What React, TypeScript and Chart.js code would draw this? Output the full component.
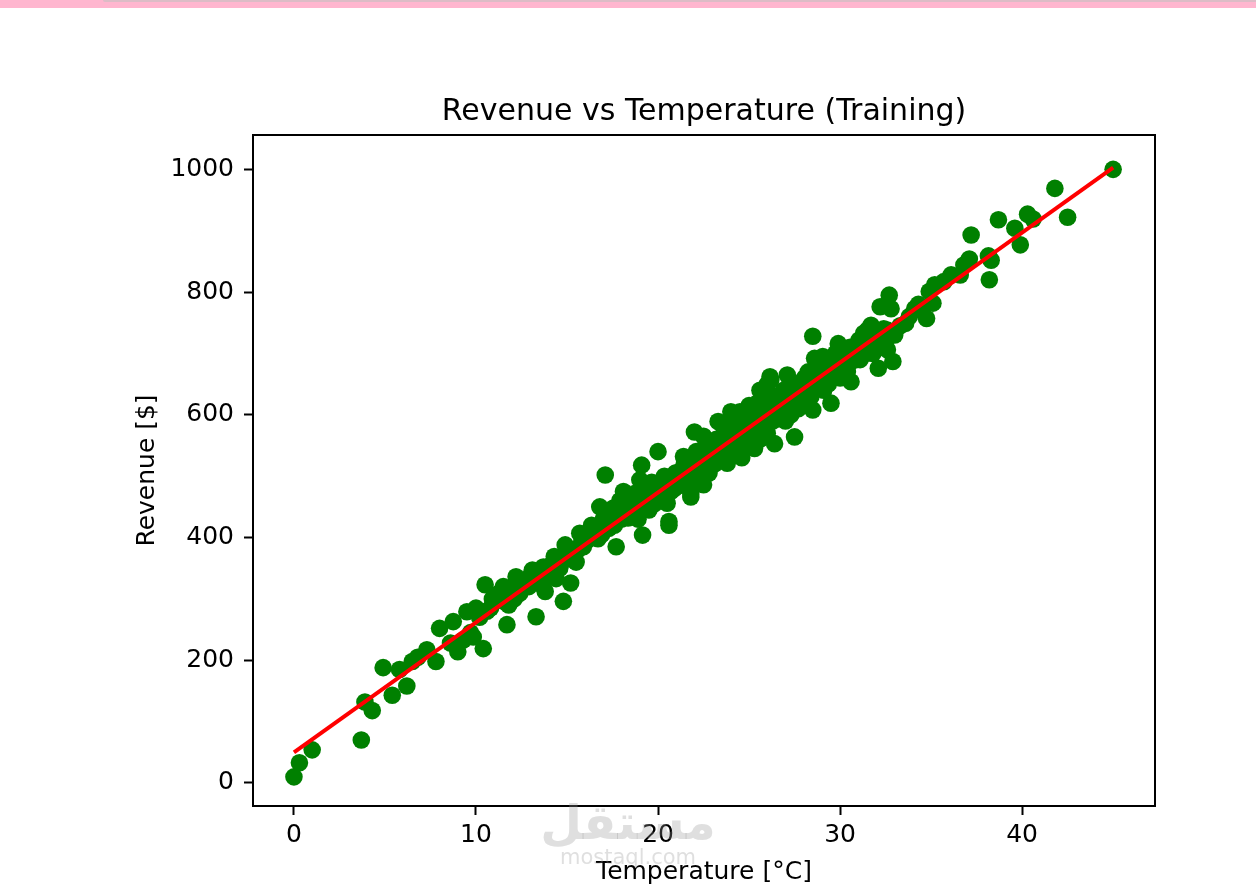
import React, { useEffect, useRef } from "react";
import { Chart, registerables } from "chart.js";

Chart.register(...registerables);

// Training data: temperature [°C] and revenue [$]
const temperature: number[] = [
  0, 0.3, 1.0, 3.7, 3.9, 4.3, 4.9, 5.4, 5.8, 6.2, 6.5, 6.8, 7.3, 7.8, 8.0, 8.6, 8.75, 9.0, 9.3, 9.5, 9.7, 10.0, 10.4, 10.2, 9.85,
  10.5, 10.9, 11.1, 11.3, 11.5, 11.7, 11.8, 12.0, 12.2, 12.4, 12.6, 12.8, 13.0, 13.1, 13.3, 13.5, 13.8, 14.0, 14.2, 14.3, 14.4, 14.6, 14.8, 14.9, 15.0, 15.2, 15.4, 15.5, 15.7, 15.9,
  10.6, 10.8, 11.0, 11.6, 12.1, 12.3, 12.9, 13.2, 13.6, 13.9, 14.1, 14.5, 14.7,
  16.1, 16.35, 16.5, 16.8, 17.0, 17.1, 17.3, 17.5, 17.7, 17.9, 18.1, 18.3, 18.5, 18.7, 18.9, 19.0, 19.1, 19.15, 19.4, 19.6, 19.8, 20.0, 20.1, 20.3, 20.5, 20.6, 20.6, 20.8, 21.0,
  15.1, 15.6, 16.2, 16.6, 16.9, 17.2, 17.6, 17.8, 18.0, 18.2, 18.4, 18.6, 18.8, 19.2, 19.3, 19.5, 19.7, 19.9, 20.2, 20.4, 20.7, 20.9,
  21.2, 21.4, 21.5, 21.8, 21.8, 22.0, 22.1, 22.2, 22.5, 22.6, 22.8, 23.0, 23.2, 23.3, 23.5, 23.8, 23.9, 24.0, 24.2, 24.4, 24.6, 24.8, 25.0, 25.1, 25.3, 25.5, 25.7, 25.9,
  21.1, 21.3, 21.6, 21.9, 22.3, 22.4, 22.7, 22.9, 23.1, 23.4, 23.6, 23.7, 24.1, 24.3, 24.5, 24.7, 24.9, 25.2, 25.4, 25.6, 25.8,
  26.15, 26.2, 26.4, 26.5, 26.7, 26.9, 27.1, 27.2, 27.5, 27.6, 27.8, 28.0, 28.2, 28.5, 28.5, 28.6, 28.8, 29.0, 29.2, 29.5, 29.7, 29.9, 30.1, 30.3, 30.6, 30.8,
  26.0, 26.3, 26.6, 26.8, 27.0, 27.3, 27.4, 27.7, 27.9, 28.1, 28.3, 28.4, 28.7, 28.9, 29.1, 29.3, 29.4, 29.6, 29.8, 30.0, 30.2, 30.4, 30.5, 30.7, 30.9,
  31.0, 31.3, 31.5, 31.7, 31.9, 32.1, 32.2, 32.4, 32.6, 32.6, 32.7, 32.8, 32.9, 33.6, 34.1, 34.75, 34.9, 35.1,
  31.1, 31.2, 31.4, 31.6, 31.8, 32.0, 32.3, 32.5, 33.0, 33.3, 33.8, 34.3, 34.5,
  35.2, 35.7, 36.1, 36.6, 36.8, 37.1, 37.2, 38.15, 38.3, 38.2, 38.7, 39.6, 39.9, 40.3, 40.6, 41.8, 42.5, 45.0,
  12.5, 13.4, 13.7, 14.15, 14.9, 15.3, 15.8, 16.3, 16.7, 17.4, 17.9, 18.35, 18.9, 19.45, 19.75, 20.15, 20.55, 20.95, 21.35, 21.7, 22.05, 22.45, 22.85, 23.25,
  23.55, 23.95, 24.35, 24.65, 25.05, 25.45, 25.85, 26.25, 26.55, 26.95, 27.35, 27.65, 28.05, 28.35, 28.75, 29.15, 29.45, 29.85, 30.25, 30.65, 31.05, 31.45, 31.85, 32.25,
  24.5, 25.0, 25.6, 26.0, 23.5, 22.5, 24.0, 25.3, 26.0, 23.0,
  17.15, 17.55, 18.05, 18.45, 18.75, 19.05, 19.35, 19.65, 20.05, 20.35, 20.75, 21.05, 21.45, 21.75, 22.15, 22.55, 22.95, 23.35, 23.65, 24.05,
  24.45, 24.85, 25.15, 25.55, 25.95, 26.35, 26.75, 27.15, 27.55, 27.95, 28.25, 28.65, 29.05, 29.35, 29.75, 30.15, 30.55, 30.95, 31.35, 31.75,
];

const revenue: number[] = [
  10, 33, 54, 70, 132, 118, 188, 143, 185, 158, 198, 205, 217, 198, 252, 228, 263, 214, 233, 279, 245, 285, 219, 270, 238,
  323, 300, 298, 310, 320, 258, 290, 315, 336, 309, 318, 330, 338, 347, 271, 325, 312, 345, 355, 369, 333, 350, 296, 388, 370, 326, 375, 360, 407, 385,
  280, 285, 305, 295, 300, 322, 320, 330, 340, 335, 355, 355, 365,
  395, 420, 400, 450, 430, 502, 415, 440, 385, 460, 475, 445, 455, 470, 430, 494, 518, 404, 465, 480, 455, 540, 490, 470, 456, 420, 426, 500, 505,
  365, 380, 400, 410, 405, 425, 420, 445, 430, 440, 460, 440, 450, 455, 470, 445, 465, 475, 480, 495, 475, 480,
  485, 532, 510, 466, 473, 572, 540, 520, 486, 530, 505, 545, 560, 589, 540, 521, 575, 605, 555, 580, 530, 590, 570, 600, 545, 620, 595, 610,
  500, 495, 490, 510, 500, 525, 515, 535, 520, 530, 555, 545, 560, 540, 565, 555, 550, 580, 575, 560, 585,
  662, 657, 553, 630, 600, 640, 665, 620, 564, 645, 630, 655, 640, 608, 728, 692, 670, 680, 660, 619, 690, 716, 700, 680, 654, 695,
  600, 590, 605, 615, 590, 600, 640, 610, 615, 620, 650, 630, 645, 650, 640, 670, 655, 665, 675, 660, 690, 670, 685, 700, 690,
  705, 733, 738, 746, 720, 676, 776, 740, 706, 738, 795, 773, 687, 749, 773, 757, 801, 782,
  690, 715, 700, 710, 700, 725, 710, 720, 730, 745, 760, 780, 770,
  812, 817, 828, 828, 844, 854, 893, 859, 852, 820, 918, 904, 877, 927, 919, 969, 922, 1000,
  318, 328, 352, 345, 372, 380, 392, 405, 398, 430, 440, 432, 462, 470, 460, 488, 478, 505, 512, 502, 528, 518, 545, 552,
  540, 570, 575, 565, 592, 600, 590, 618, 625, 612, 642, 628, 660, 640, 672, 658, 686, 672, 705, 688, 722, 705, 738, 722,
  605, 615, 640, 650, 585, 565, 540, 560, 570, 520,
  435, 448, 455, 448, 472, 465, 482, 490, 470, 500, 490, 485, 520, 525, 510, 545, 525, 560, 570, 580,
  590, 575, 560, 610, 625, 600, 630, 640, 650, 640, 670, 660, 695, 650, 700, 675, 710, 715, 725, 730,
];

// Fitted regression line end points
const fitTemperature: number[] = [0, 45];
const fitRevenue: number[] = [50, 1003];

const xTicks: number[] = [0, 10, 20, 30, 40];
const yTicks: number[] = [0, 200, 400, 600, 800, 1000];

const chartTitle = "Revenue vs Temperature (Training)";
const xTitle = "Temperature [°C]";
const yTitle = "Revenue [$]";

const FONT = "'DejaVu Sans', sans-serif";

const frameBox = {
  id: "frameBox",
  afterDatasetsDraw(chart: any) {
    const { ctx, chartArea } = chart;
    ctx.save();
    ctx.strokeStyle = "#000";
    ctx.lineWidth = 2;
    ctx.strokeRect(chartArea.left, chartArea.top, chartArea.right - chartArea.left, chartArea.bottom - chartArea.top);
    ctx.restore();
  },
};

export default function App() {
  const canvasRef = useRef<HTMLCanvasElement | null>(null);

  useEffect(() => {
    const canvas = canvasRef.current;
    if (!canvas) return;
    const points = temperature.map((t, i) => ({ x: t, y: revenue[i] }));
    const fit = fitTemperature.map((t, i) => ({ x: t, y: fitRevenue[i] }));
    const chart = new Chart(canvas, {
      type: "scatter",
      data: {
        datasets: [
          {
            type: "line",
            label: "fit",
            data: fit,
            borderColor: "#ff0000",
            borderWidth: 4,
            pointRadius: 0,
            fill: false,
            order: 0,
          } as any,
          {
            label: "training",
            data: points,
            backgroundColor: "#008000",
            borderColor: "#008000",
            borderWidth: 0,
            pointRadius: 8.8,
            order: 1,
          },
        ],
      },
      plugins: [frameBox],
      options: {
        animation: false,
        responsive: false,
        devicePixelRatio: 1,
        layout: { padding: { left: 0, right: 101, top: 0, bottom: 0 } },
        plugins: {
          legend: { display: false },
          tooltip: { enabled: false },
          title: { display: false },
        },
        scales: {
          top: {
            type: "linear",
            position: "top",
            min: -2.25,
            max: 47.3,
            afterFit: (scale: any) => {
              scale.height = 135;
            },
            grid: { display: false },
            border: { display: false },
            ticks: { display: false },
            title: {
              display: true,
              text: chartTitle,
              color: "#000",
              font: { family: FONT, size: 30, weight: "normal", lineHeight: 1.2 },
              padding: { top: 94, bottom: 0 },
            },
          },
          x: {
            type: "linear",
            position: "bottom",
            min: -2.25,
            max: 47.3,
            afterBuildTicks: (scale: any) => {
              scale.ticks = xTicks.map((v) => ({ value: v }));
            },
            afterFit: (scale: any) => {
              scale.height = 86;
            },
            grid: {
              display: true,
              drawOnChartArea: false,
              drawTicks: true,
              tickLength: 9,
              tickColor: "#000",
              tickWidth: 2,
            },
            border: { display: true, color: "#000", width: 2 },
            ticks: {
              color: "#000",
              font: { family: FONT, size: 25 },
              padding: 5,
              maxRotation: 0,
              autoSkip: false,
              callback: (v: any) => String(v),
            },
            title: {
              display: true,
              text: xTitle,
              color: "#000",
              font: { family: FONT, size: 25, lineHeight: 1.2 },
              padding: { top: 0, bottom: 5 },
            },
          },
          y: {
            type: "linear",
            min: -37.5,
            max: 1056,
            afterBuildTicks: (scale: any) => {
              scale.ticks = yTicks.map((v) => ({ value: v }));
            },
            afterFit: (scale: any) => {
              scale.width = 253;
            },
            grid: {
              display: true,
              drawOnChartArea: false,
              drawTicks: true,
              tickLength: 9,
              tickColor: "#000",
              tickWidth: 2,
            },
            border: { display: true, color: "#000", width: 2 },
            ticks: {
              color: "#000",
              font: { family: FONT, size: 25 },
              padding: 10,
              autoSkip: false,
              callback: (v: any) => String(v),
            },
            title: {
              display: true,
              text: yTitle,
              color: "#000",
              font: { family: FONT, size: 25, lineHeight: 1.2 },
              padding: { top: 132, bottom: 0 },
            },
          },
        },
      },
    });
    return () => chart.destroy();
  }, []);

  return (
    <div style={{ position: "absolute", left: 0, top: 0, width: 1256, height: 892, background: "#fff", overflow: "hidden" }}>
      <div style={{ position: "absolute", left: 0, top: 0, width: 1256, height: 8, background: "#ffb6cf" }} />
      <div
        style={{
          position: "absolute",
          left: 103,
          top: 0,
          width: 1153,
          height: 2,
          background: "#dcbcc6",
          borderBottomLeftRadius: 4,
        }}
      />
      <canvas ref={canvasRef} width={1256} height={892} style={{ position: "absolute", left: 0, top: 0, width: 1256, height: 892 }} />
      <div
        style={{
          position: "absolute",
          left: 540,
          top: 792,
          width: 176,
          textAlign: "center",
          fontFamily: "'DejaVu Sans', sans-serif",
          fontWeight: "bold",
          fontSize: 48,
          color: "rgba(150,150,150,0.3)",
          lineHeight: "60px",
          pointerEvents: "none",
        }}
      >
        مستقل
      </div>
      <div
        style={{
          position: "absolute",
          left: 540,
          top: 845,
          width: 176,
          textAlign: "center",
          fontFamily: "'DejaVu Sans', sans-serif",
          fontSize: 21,
          color: "rgba(150,150,150,0.3)",
          pointerEvents: "none",
        }}
      >
        mostaql.com
      </div>
    </div>
  );
}
